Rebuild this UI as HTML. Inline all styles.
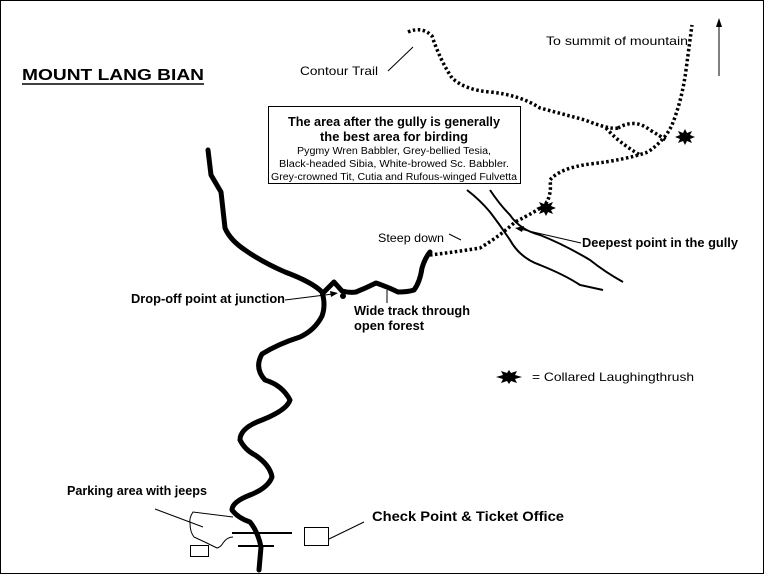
<!DOCTYPE html>
<html><head><style>body{margin:0;background:#fff}svg{display:block}text{font-family:"Liberation Sans",sans-serif;fill:#000}</style></head>
<body>
<svg width="765" height="575" viewBox="0 0 765 575" xmlns="http://www.w3.org/2000/svg">
<rect x="0.5" y="0.5" width="763" height="573" fill="#fff" stroke="#000" stroke-width="1"/>
<text x="22" y="80" font-size="16" font-weight="bold" textLength="182" lengthAdjust="spacingAndGlyphs">MOUNT LANG BIAN</text>
<line x1="22" y1="84" x2="204" y2="84" stroke="#000" stroke-width="1.5"/>
<text x="300" y="75" font-size="12" textLength="78" lengthAdjust="spacingAndGlyphs">Contour Trail</text>
<line x1="388" y1="71" x2="413" y2="47" stroke="#000"/>
<text x="546" y="45" font-size="12" textLength="142" lengthAdjust="spacingAndGlyphs">To summit of mountain</text>
<line x1="719" y1="76" x2="719" y2="24" stroke="#000"/>
<path d="M719 18 L716 27 L722 27 Z"/>
<g fill="none" stroke="#000" stroke-width="3.5" stroke-dasharray="2.5 2.5">
<path d="M408 32 Q422 26 432 36 Q440 60 452 78 Q465 90 490 92 Q520 95 540 108 L585 120 Q610 130 618 128"/>
<path d="M618 128 Q635 118 650 130 Q660 136 666 140"/>
<path d="M606 128 Q618 142 640 155"/>
<path d="M430 255 Q455 252 480 248 Q500 236 515 222 Q535 212 545 205 Q552 195 550 180 Q560 168 590 164 Q625 160 648 152 Q665 140 672 125 Q682 100 686 70 Q690 40 692 25"/>
</g>
<g fill="none" stroke="#000" stroke-width="5" stroke-linejoin="round" stroke-linecap="round">
<path d="M208 150 L211 175 L221 192 L225 228 Q230 240 245 250 Q262 262 285 272 Q312 282 322 292 Q326 305 322 316 Q315 330 300 337 Q278 344 262 354 Q254 368 265 380 Q282 385 290 400 Q287 410 262 420 Q240 428 240 440 Q245 450 255 455 Q270 465 272 477 Q268 488 250 495 Q232 502 232 510 Q238 518 250 522 Q258 532 261 547 L259 570"/>
<path d="M324 292 L334 282 L342 291 Q350 293 356 292 Q366 288 376 283 Q388 287 398 292 Q408 292 414 290 Q420 282 422 268 Q425 258 430 252"/>
</g>
<g fill="none" stroke="#000" stroke-width="2">
<path d="M467 190 Q480 200 490 212 Q500 225 510 240 Q520 258 540 265 Q565 275 580 285 L603 290"/>
<path d="M490 190 Q500 205 510 215 Q520 230 540 235 Q565 245 590 260 Q605 272 623 282"/>
</g>
<rect x="268.5" y="106.5" width="252" height="77" fill="#fff" stroke="#000"/>
<text x="394" y="126" font-size="12.5" font-weight="bold" text-anchor="middle" textLength="212" lengthAdjust="spacingAndGlyphs">The area after the gully is generally</text>
<text x="394" y="141" font-size="12.5" font-weight="bold" text-anchor="middle" textLength="148" lengthAdjust="spacingAndGlyphs">the best area for birding</text>
<text x="394" y="154" font-size="10" text-anchor="middle" textLength="194" lengthAdjust="spacingAndGlyphs">Pygmy Wren Babbler, Grey-bellied Tesia,</text>
<text x="394" y="167" font-size="10" text-anchor="middle" textLength="230" lengthAdjust="spacingAndGlyphs">Black-headed Sibia, White-browed Sc. Babbler.</text>
<text x="394" y="180" font-size="10" text-anchor="middle" textLength="246" lengthAdjust="spacingAndGlyphs">Grey-crowned Tit, Cutia and Rufous-winged Fulvetta</text>
<text x="378" y="242" font-size="12" textLength="66" lengthAdjust="spacingAndGlyphs">Steep down</text>
<line x1="449" y1="234" x2="461" y2="240" stroke="#000"/>
<text x="582" y="247" font-size="12.5" font-weight="bold" textLength="156" lengthAdjust="spacingAndGlyphs">Deepest point in the gully</text>
<line x1="581" y1="243" x2="520" y2="229" stroke="#000"/>
<path d="M515 228 L524 226 L522 232 Z"/>
<text x="131" y="303" font-size="12.5" font-weight="bold" textLength="154" lengthAdjust="spacingAndGlyphs">Drop-off point at junction</text>
<line x1="285" y1="300" x2="333" y2="294" stroke="#000"/>
<path d="M338 293 L330 291 L331 297 Z"/>
<circle cx="343" cy="296" r="3"/>
<line x1="387" y1="290" x2="387" y2="303" stroke="#000"/>
<text x="354" y="315" font-size="12.5" font-weight="bold" textLength="116" lengthAdjust="spacingAndGlyphs">Wide track through</text>
<text x="354" y="330" font-size="12.5" font-weight="bold" textLength="70" lengthAdjust="spacingAndGlyphs">open forest</text>
<g fill="#000">
<polygon points="685,129 687,133 692,131 690,135 695,137 690,139 692,143 687,141 685,145 683,141 678,143 680,139 675,137 680,135 678,131 683,133"/>
<polygon points="546,200 548,204 553,202 551,206 556,208 551,210 553,214 548,212 546,216 544,212 539,214 541,210 536,208 541,206 539,202 544,204"/>
<polygon points="509,370 511,373 517,371 515,375 522,377 515,379 517,383 511,381 509,384 507,381 501,383 503,379 496,377 503,375 501,371 507,373"/>
</g>
<text x="532" y="381" font-size="12" textLength="162" lengthAdjust="spacingAndGlyphs">= Collared Laughingthrush</text>
<text x="67" y="495" font-size="12.5" font-weight="bold" textLength="140" lengthAdjust="spacingAndGlyphs">Parking area with jeeps</text>
<line x1="155" y1="509" x2="203" y2="527" stroke="#000"/>
<path d="M233 517 L193 512 Q189 518 190 523 Q190 532 194 537 Q205 542 217 548 Q221 547 223 543 Q227 537 233 537" fill="none" stroke="#000"/>
<rect x="190.5" y="545.5" width="18" height="11" fill="#fff" stroke="#000"/>
<line x1="232" y1="533" x2="292" y2="533" stroke="#000" stroke-width="2"/>
<line x1="238" y1="546" x2="274" y2="546" stroke="#000" stroke-width="2"/>
<rect x="304.5" y="527.5" width="24" height="18" fill="#fff" stroke="#000"/>
<line x1="329" y1="539" x2="364" y2="522" stroke="#000"/>
<text x="372" y="521" font-size="13.5" font-weight="bold" textLength="192" lengthAdjust="spacingAndGlyphs">Check Point &amp; Ticket Office</text>
</svg>
</body></html>
